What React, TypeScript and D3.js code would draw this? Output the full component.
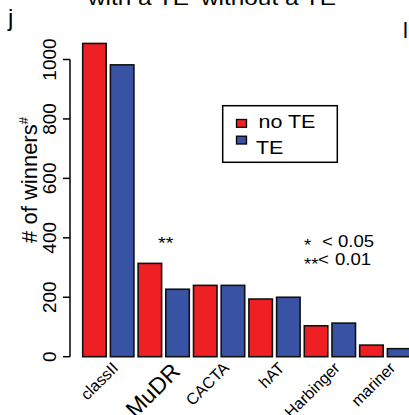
import React from "react";
import * as d3 from "d3";

const categories = ["classII", "MuDR", "CACTA", "hAT", "Harbinger", "mariner"];
const noTE = [1054, 314, 240, 194, 104, 39];
const withTE = [982, 227, 240, 200, 113, 27];
const yTicks = [0, 200, 400, 600, 800, 1000];
const seriesNames = ["no TE", "TE"];
const colors = ["#ee2024", "#3953a4"];

const W = 409;
const H = 415;
const FONT = "Liberation Sans, Arial, sans-serif";
const SX = 1.16;

export default function App() {
  const y = d3.scaleLinear().domain([0, 1000]).range([356.7, 59.5]);
  const bars = d3
    .scaleBand<number>()
    .domain(d3.range(categories.length * 2))
    .range([80.6, 80.6 + 27.7 * 12])
    .paddingInner(4.2 / 27.7)
    .paddingOuter(2.1 / 27.7);
  const bw = bars.bandwidth();
  const groupCenter = (i: number) => (bars(2 * i)! + bars(2 * i + 1)! + bw) / 2;

  const T = (x: number, yy: number, s: string, fs: number, extra: any = {}) => (
    <text transform={`translate(${x},${yy}) scale(${SX},1)`} fontSize={fs} fill="#000" {...extra}>
      {s}
    </text>
  );

  return (
    <svg width={W} height={H} style={{ display: "block", position: "absolute", left: 0, top: 0 }} fontFamily={FONT}>
      <rect width={W} height={H} fill="#fff" />
      {/* top clipped titles */}
      {T(88, 5, "with a TE", 21)}
      {T(201, 5, "without a TE", 21)}
      <text x={8} y={26} fontSize={24} fill="#000">j</text>
      <text x={403} y={38} fontSize={22} fill="#000">l</text>

      {/* y axis */}
      <line x1={70} x2={70} y1={y(0)} y2={y(1000)} stroke="#000" strokeWidth={1.5} />
      {yTicks.map((t) => (
        <g key={t}>
          <line x1={63} x2={70} y1={y(t)} y2={y(t)} stroke="#000" strokeWidth={1.5} />
          <text
            transform={`translate(56,${y(t)}) rotate(-90)`}
            textAnchor="middle"
            fontSize={19}
            fill="#000"
          >
            {t}
          </text>
        </g>
      ))}
      <text transform={`translate(37,180) rotate(-90)`} textAnchor="middle" fontSize={22} fill="#000">
        # of winners<tspan fontSize={13} dy={-9}>#</tspan>
      </text>

      {/* bars */}
      {categories.map((c, i) => (
        <g key={c}>
          {[noTE[i], withTE[i]].map((v, j) => (
            <rect
              key={j}
              x={bars(2 * i + j)}
              y={y(v)}
              width={bw}
              height={y(0) - y(v)}
              fill={colors[j]}
              stroke="#111"
              strokeWidth={1.6}
            />
          ))}
          <text
            transform={`translate(${groupCenter(i) + (c === "MuDR" ? 12 : 7)},${c === "MuDR" ? 367 : 365}) rotate(-45)`}
            textAnchor="end"
            dy="0.35em"
            fontSize={c === "MuDR" ? 23 : 16}
            fill="#000"
          >
            {c}
          </text>
        </g>
      ))}

      {/* significance */}
      {T(158, 249, "**", 17)}

      {/* legend */}
      <rect x={222.7} y={105.7} width={114.6} height={56.6} fill="#fff" stroke="#000" strokeWidth={1.5} />
      {seriesNames.map((s, j) => (
        <g key={s}>
          <rect x={236.5} y={119.5 + j * 16.7} width={10} height={7.8} fill={colors[j]} stroke="#000" strokeWidth={1.3} />
          {T(j === 0 ? 258.5 : 256, 127.7 + j * 26.6, s, 18.5)}
        </g>
      ))}

      {T(304, 251, "*", 16)}
      {T(322, 246.7, "<", 16)}
      {T(338, 246.7, "0.05", 16)}
      {T(304, 270, "**", 16)}
      {T(318, 265, "<", 16)}
      {T(335, 265, "0.01", 16)}
    </svg>
  );
}
